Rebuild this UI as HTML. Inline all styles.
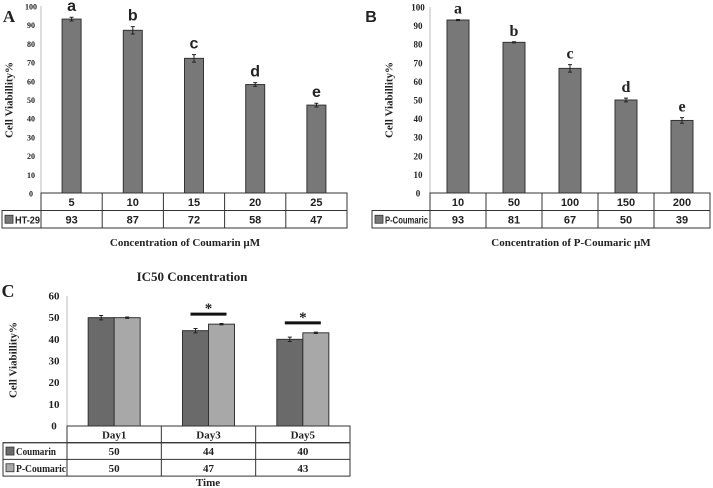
<!DOCTYPE html>
<html><head><meta charset="utf-8"><style>
body{margin:0;background:#fff;width:713px;height:488px;overflow:hidden}
svg{display:block}
.t{font-family:"Liberation Serif",serif;font-weight:bold;fill:#222}
.s{font-family:"Liberation Sans",sans-serif;font-weight:bold;fill:#222}
</style></head><body>
<svg id="c" width="713" height="488"></svg>
<script>
const catsA=["5","10","15","20","25"], valsA=[93,87,72,58,47], errA=[1,2,2,1,1], letA=["a","b","c","d","e"];
const catsB=["10","50","100","150","200"], valsB=[93,81,67,50,39], errB=[0.3,0.3,2,1,1.5], letB=["a","b","c","d","e"];
const catsC=["Day1","Day3","Day5"], coumarin=[50,44,40], pcoumaric=[50,47,43], errC1=[1,1,1], errC2=[0.3,0.3,0.3];
const ticksAB=[0,10,20,30,40,50,60,70,80,90,100], ticksC=[0,10,20,30,40,50,60];
const svg=document.getElementById('c');const NS="http://www.w3.org/2000/svg";
function el(t,a,p){const e=document.createElementNS(NS,t);for(const k in a)e.setAttribute(k,a[k]);(p||svg).appendChild(e);return e;}
function tx(s,x,y,cls,size,anchor,p){const e=el('text',{x:x,y:y,class:cls,'font-size':size,'text-anchor':anchor||'middle'},p);e.textContent=s;return e;}
function panel(o){
  const g=el('g',{});
  
  
  const ys=v=>o.y0-(v-o.min)/(o.max-o.min)*(o.y0-o.y1);
  const cw=(o.x1-o.x0)/o.cats.length;
  el('line',{x1:o.x0,y1:o.y1,x2:o.x0,y2:o.y0,stroke:'#bbb','stroke-width':1},g);
  o.ticks.forEach(t=>{const e=tx(String(t),o.x0-(o.tickOff||12),ys(t)+3.5,'t',o.tickSize||9,'middle',g);});
  o.series.forEach((s,si)=>{
    s.vals.forEach((v,i)=>{
      const cx=o.x0+cw*(i+0.5)+(si-(o.series.length-1)/2)*o.bw;
      const r=el('rect',{x:cx-o.bw/2,y:ys(v),width:o.bw,height:o.y0-ys(v),fill:s.color,stroke:'#333','stroke-width':1},g);
      
      
      const e=s.err[i];
      el('path',{d:`M${cx},${ys(v+e)}V${ys(v-e)}M${cx-2},${ys(v+e)}h4M${cx-2},${ys(v-e)}h4`,stroke:'#222','stroke-width':1,fill:'none'},g);
      if(s.letters){const l=tx(s.letters[i],cx,ys(v+e)-6,o.letCls,16,'middle',g);}
    });
  });
  const rows=1+o.series.length, rh=o.rh;
  el('rect',{x:o.x0,y:o.y0,width:o.x1-o.x0,height:rh,fill:'none',stroke:'#333'},g);
  el('rect',{x:o.lx,y:o.y0+rh,width:o.x1-o.lx,height:rh*o.series.length,fill:'none',stroke:'#333'},g);
  for(let r=1;r<rows;r++) el('line',{x1:o.lx,y1:o.y0+rh*r,x2:o.x1,y2:o.y0+rh*r,stroke:'#333'},g);
  el('line',{x1:o.x0,y1:o.y0+rh,x2:o.x0,y2:o.y0+rh*rows,stroke:'#333'},g);
  for(let i=1;i<o.cats.length;i++) el('line',{x1:o.x0+cw*i,y1:o.y0,x2:o.x0+cw*i,y2:o.y0+rh*rows,stroke:'#333'},g);
  o.cats.forEach((c,i)=>{const e=tx(c,o.x0+cw*(i+0.5),o.y0+rh*0.5+4,o.tabCls,11,'middle',g);});
  o.series.forEach((s,si)=>{
    const yy=o.y0+rh*(si+1);
    el('rect',{x:o.lx+3,y:yy+rh/2-4,width:8,height:8,fill:s.color,stroke:'#333','stroke-width':0.8},g);
    const lg=tx(s.name,o.lx+13,yy+rh/2+4,o.tabCls,o.legSize||10,'start',g);
    lg.setAttribute('textLength',s.legW);lg.setAttribute('lengthAdjust','spacingAndGlyphs');
    
    s.vals.forEach((v,i)=>{const e=tx(String(v),o.x0+cw*(i+0.5),yy+rh/2+4,o.tabCls,11,'middle',g);});
  });
  return {g,ys,cw};
}
panel({name:'panel-a',cats:catsA,x0:41,x1:347,y0:193,y1:6,min:0,max:100,ticks:ticksAB,bw:19,rh:17.5,lx:2,tabCls:'s',letCls:'s',tickSize:8,tickOff:10,
  series:[{name:'HT-29',vals:valsA,err:errA,color:'#787878',letters:letA,legW:25}]});
panel({name:'panel-b',cats:catsB,x0:430,x1:710,y0:193,y1:7,min:0,max:100,ticks:ticksAB,bw:22,rh:17.5,lx:372,tabCls:'s',letCls:'t',tickSize:9,tickOff:12,
  series:[{name:'P-Coumaric',vals:valsB,err:errB,color:'#787878',letters:letB,legW:43}]});
const pc=panel({name:'panel-c',cats:catsC,x0:67,x1:350,y0:426,y1:296,min:0,max:60,ticks:ticksC,bw:26,rh:16.7,lx:3,tabCls:'t',letCls:'t',tickSize:11,tickOff:13,legSize:11,
  series:[{name:'Coumarin',vals:coumarin,err:errC1,color:'#6a6a6a',legW:40},{name:'P-Coumaric',vals:pcoumaric,err:errC2,color:'#a8a8a8',legW:50}]});
[1,2].forEach(i=>{
  const cx=67+pc.cw*(i+0.5), top=Math.max(coumarin[i],pcoumaric[i]);
  const y=pc.ys(top)-10;
  const ln=el('line',{x1:cx-18,y1:y,x2:cx+18,y2:y,stroke:'#111','stroke-width':3});
  
  const st=tx('*',cx,y-1,'t',15);
});
const L=[['A',9,22,'t',17,'panel-label-a'],['B',371,22,'s',16,'panel-label-b'],['C',8,297,'t',18,'panel-label-c'],
['Concentration of Coumarin µM',185,246,'t',11,'x-axis-title-a'],['Concentration of P-Coumaric µM',571,246,'t',11,'x-axis-title-b'],
['IC50 Concentration',192,281,'t',13,'chart-title-c'],['Time',208,486,'t',11,'x-axis-title-c']];
L.forEach(a=>{const e=tx(a[0],a[1],a[2],a[3],a[4]);});
[[10,100,'y-axis-title-a'],[390,100,'y-axis-title-b'],[14,360,'y-axis-title-c']].forEach(a=>{
  const e=tx('Cell Viabillity%',a[0],a[1],'t',11);e.setAttribute('transform',`rotate(-90 ${a[0]} ${a[1]})`);e.setAttribute('dominant-baseline','middle');
  });
</script>
</body></html>
